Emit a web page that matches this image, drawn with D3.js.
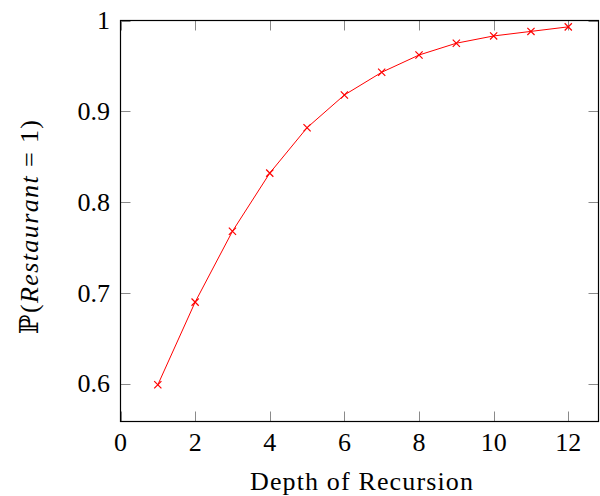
<!DOCTYPE html>
<html>
<head>
<meta charset="utf-8">
<script src="https://cdn.jsdelivr.net/npm/d3@7"></script>
<style>
  body { margin: 0; background: #fff; }
  svg { display: block; }
  text { font-family: "Liberation Serif", "DejaVu Serif", serif; fill: #000; }
</style>
</head>
<body>
<div id="chart"></div>
<script>
// data
const depth = [1, 2, 3, 4, 5, 6, 7, 8, 9, 10, 11, 12];
const prob = [0.599, 0.690, 0.768, 0.832, 0.882, 0.918, 0.943, 0.962, 0.975, 0.983, 0.988, 0.993];
const xTicks = [0, 2, 4, 6, 8, 10, 12];
const yTicks = [0.6, 0.7, 0.8, 0.9, 1];

const width = 600, height = 496;
const plot = { left: 120.5, right: 598.5, top: 20.5, bottom: 421.5 };
const fontSize = "26px";

const svg = d3.select("#chart")
    .append("svg")
    .attr("width", width)
    .attr("height", height);

const x = d3.scaleLinear()
    .domain([0, 12.81])
    .range([plot.left, plot.right]);

const y = d3.scaleLinear()
    .domain([0.5586, 1])
    .range([plot.bottom, plot.top]);

const tickLen = 10;
const tickColor = "#8a8a8a";

// ticks on all four sides, pointing inward
const g = svg.append("g");
xTicks.forEach(t => {
    const px = Math.round(x(t)) + 0.5;
    g.append("line").attr("x1", px).attr("x2", px).attr("y1", plot.bottom).attr("y2", plot.bottom - tickLen)
        .attr("stroke", tickColor);
    g.append("line").attr("x1", px).attr("x2", px).attr("y1", plot.top).attr("y2", plot.top + tickLen)
        .attr("stroke", tickColor);
    g.append("text")
        .attr("x", x(t))
        .attr("y", 451)
        .attr("text-anchor", "middle")
        .style("font-size", fontSize)
        .text(t);
});
yTicks.forEach(t => {
    const py = Math.round(y(t)) + 0.5;
    g.append("line").attr("x1", plot.left).attr("x2", plot.left + tickLen).attr("y1", py).attr("y2", py)
        .attr("stroke", tickColor);
    g.append("line").attr("x1", plot.right).attr("x2", plot.right - tickLen).attr("y1", py).attr("y2", py)
        .attr("stroke", tickColor);
    g.append("text")
        .attr("x", 110)
        .attr("y", y(t))
        .attr("dy", "0.33em")
        .attr("text-anchor", "end")
        .style("font-size", fontSize)
        .text(d3.format("~g")(t));
});

// axis box
svg.append("rect")
    .attr("x", plot.left)
    .attr("y", plot.top)
    .attr("width", plot.right - plot.left)
    .attr("height", plot.bottom - plot.top)
    .attr("fill", "none")
    .attr("stroke", "#000")
    .attr("stroke-width", 1.2);

// series line
const line = d3.line()
    .x((d, i) => x(depth[i]))
    .y(d => y(d));

svg.append("path")
    .datum(prob)
    .attr("d", line)
    .attr("fill", "none")
    .attr("stroke", "#ff0000")
    .attr("stroke-width", 1);

// x markers
const m = 3.6;
svg.append("g")
    .selectAll("path")
    .data(prob)
    .join("path")
    .attr("d", (d, i) => {
        const cx = x(depth[i]), cy = y(d);
        return `M${cx - m},${cy - m}L${cx + m},${cy + m}M${cx - m},${cy + m}L${cx + m},${cy - m}`;
    })
    .attr("stroke", "#ff0000")
    .attr("stroke-width", 1.2)
    .attr("fill", "none");

// axis labels
svg.append("text")
    .attr("x", 250)
    .attr("y", 490)
    .attr("textLength", 223)
    .attr("lengthAdjust", "spacing")
    .style("font-size", fontSize)
    .text("Depth of Recursion");

const yl = svg.append("text")
    .attr("transform", "translate(38,334) rotate(-90)")
    .attr("textLength", 214)
    .attr("lengthAdjust", "spacing")
    .style("font-size", fontSize);
yl.append("tspan").text("ℙ(");
yl.append("tspan").style("font-style", "italic").text("Restaurant");
yl.append("tspan").text(" = 1)");
</script>
</body>
</html>
